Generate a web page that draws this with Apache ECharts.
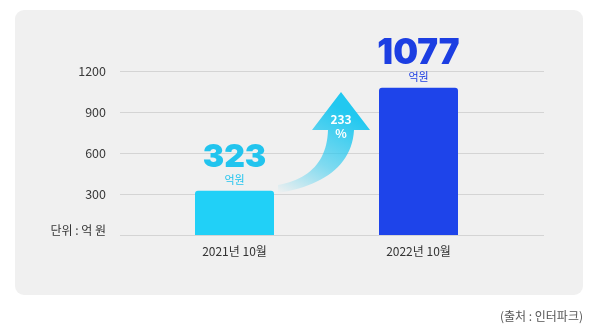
<!DOCTYPE html>
<html>
<head>
<meta charset="utf-8">
<script src="https://cdn.jsdelivr.net/npm/echarts@6/dist/echarts.min.js"></script>
<style>
  html, body { margin: 0; padding: 0; background: #ffffff; }
  #chart { width: 598px; height: 332px; }
</style>
</head>
<body>
<div id="chart"></div>
<script>
// Monthly transaction amount (unit: 억 원)
const categories = ['2021년 10월', '2022년 10월'];
const values = [323, 1077];
const barColors = ['#21d0f7', '#1e44ea'];
const labelColors = ['#22c4ee', '#1c3ee2'];
const growthText = ['233', '%'];
const unitText = '억원';
const axisUnit = '단위 : 억 원';
const sourceText = '(출처 : 인터파크)';

const FONT = '"Noto Sans CJK KR", "Noto Sans", sans-serif';

// sample a cubic bezier into points
function cubic(p0, p1, p2, p3, n) {
  const pts = [];
  for (let k = 0; k <= n; k++) {
    const t = k / n, u = 1 - t;
    pts.push([
      u*u*u*p0[0] + 3*u*u*t*p1[0] + 3*u*t*t*p2[0] + t*t*t*p3[0],
      u*u*u*p0[1] + 3*u*u*t*p1[1] + 3*u*t*t*p2[1] + t*t*t*p3[1]
    ]);
  }
  return pts;
}

// arrow outline: head, outer curve down to the tail, inner curve back up
const arrowPoints = [[341, 92], [370, 130], [354, 130]]
  .concat(cubic([354, 130], [352, 166], [322, 186], [278, 193], 24))
  .concat(cubic([278, 185], [310, 179], [327, 161], [328, 130], 24))
  .concat([[312, 130]]);

const chart = echarts.init(document.getElementById('chart'), null, { renderer: 'canvas' });

const seriesData = values.map((v, i) => ({
  value: v,
  itemStyle: { color: barColors[i], borderRadius: [3, 3, 0, 0] },
  label: {
    show: true,
    position: 'top',
    distance: 4,
    formatter: '{v|' + v + '}\n{u|' + unitText + '}',
    rich: {
      v: { fontFamily: 'Inter, ' + FONT, fontWeight: 900, fontSize: i === 0 ? 32 : 35,
           color: labelColors[i], lineHeight: i === 0 ? 30 : 33, align: 'center' },
      u: { fontFamily: FONT, fontSize: 11, color: labelColors[i], lineHeight: 14, align: 'center' }
    }
  }
}));

chart.setOption({
  animation: false,
  backgroundColor: '#ffffff',
  graphic: [
    { type: 'rect', z: -10, shape: { x: 15, y: 10, width: 568, height: 285, r: 9 },
      style: { fill: '#f0f0f0' } },
    { type: 'text', x: 583, y: 310,
      style: { text: sourceText, fill: '#555555', font: '12px ' + FONT, textAlign: 'right' } },
    // curved growth arrow between the bars
    { type: 'polygon', z: 5,
      shape: { points: arrowPoints },
      style: {
        fill: {
          type: 'linear', x: 0, y: 1, x2: 0.55, y2: 0.1,
          colorStops: [
            { offset: 0, color: 'rgba(34,200,240,0)' },
            { offset: 0.45, color: 'rgba(34,200,240,0.55)' },
            { offset: 1, color: 'rgba(34,200,240,1)' }
          ]
        }
      } },
    { type: 'text', z: 6, x: 341, y: 119,
      style: { text: growthText[0], fill: '#ffffff', font: 'bold 12px ' + FONT,
               textAlign: 'center', textVerticalAlign: 'middle' } },
    { type: 'text', z: 6, x: 341, y: 133,
      style: { text: growthText[1], fill: '#ffffff', font: 'bold 12px ' + FONT,
               textAlign: 'center', textVerticalAlign: 'middle' } }
  ],
  grid: [
    { left: 120, right: 54, top: 71, bottom: 97 },
    { left: 142.5, right: 87.5, top: 71, bottom: 97 }
  ],
  xAxis: [
    { gridIndex: 0, type: 'value', show: false, min: 0, max: 1 },
    { gridIndex: 1, type: 'category', data: categories,
      axisLine: { show: false }, axisTick: { show: false },
      axisLabel: { color: '#333333', fontSize: 12, fontFamily: FONT, margin: 10 } }
  ],
  yAxis: [
    { gridIndex: 0, type: 'value', min: 0, max: 1200, interval: 300,
      axisLine: { show: false }, axisTick: { show: false },
      splitLine: { lineStyle: { color: '#d4d4d4', width: 1 } },
      axisLabel: {
        color: '#3a3a3a', fontSize: 12.5, fontFamily: FONT, margin: 14,
        formatter: v => v === 0 ? '{unit|' + axisUnit + '}' : String(v),
        rich: { unit: { fontSize: 12, fontFamily: FONT, color: '#333333', padding: [0, 0, 10, 0] } }
      } },
    { gridIndex: 1, type: 'value', min: 0, max: 1200, show: false, splitLine: { show: false } }
  ],
  series: [
    { type: 'bar', xAxisIndex: 1, yAxisIndex: 1, barWidth: 79, data: seriesData, z: 3 }
  ]
});
</script>
</body>
</html>
